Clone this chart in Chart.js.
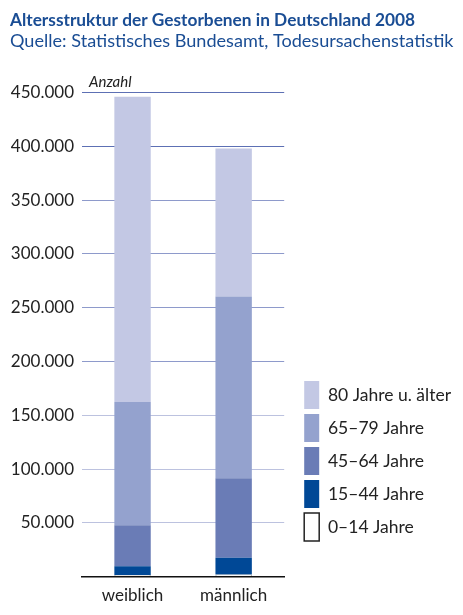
<!DOCTYPE html>
<html>
<head>
<meta charset="utf-8">
<script src="https://cdn.jsdelivr.net/npm/chart.js@4"></script>
<style>
  html, body { margin: 0; padding: 0; background: #fff; }
</style>
</head>
<body>
<canvas id="c" width="463" height="615"></canvas>
<script>
// Data
const categories = ["weiblich", "männlich"];
const ageGroups = ["0–14 Jahre", "15–44 Jahre", "45–64 Jahre", "65–79 Jahre", "80 Jahre u. älter"];
const age0to14 = [1500, 2000];
const age15to44 = [8200, 15500];
const age45to64 = [38100, 74000];
const age65to79 = [114500, 169000];
const age80plus = [284000, 137500];
const yTicks = [0, 50000, 100000, 150000, 200000, 250000, 300000, 350000, 400000, 450000];

const colors = ["#ffffff", "#004896", "#6a7cb6", "#94a2ce", "#c3c8e4"];
const series = [age0to14, age15to44, age45to64, age65to79, age80plus];

Chart.defaults.font.family = "Lato";
Chart.defaults.color = "#222";

// legend sizing: measure the widest label so the plot ends at x=284
const legendFont = 17.5;
const mctx = document.createElement("canvas").getContext("2d");
mctx.font = legendFont + "px Lato";
const textW = Math.max(...ageGroups.map(t => mctx.measureText(t).width));
const legendW = Math.ceil(5 + 15 + legendFont / 2 + textW + 10);
const padRight = 463 - 284 - 15 - legendW;

// "Anzahl" label above the y axis
const axisLabel = {
    id: "axisLabel",
    afterDraw(chart) {
        const ctx = chart.ctx;
        ctx.save();
        ctx.font = "italic 15px Lato";
        ctx.fillStyle = "#222";
        ctx.textBaseline = "alphabetic";
        ctx.fillText("Anzahl", chart.chartArea.left + 7, chart.chartArea.top - 6);
        ctx.restore();
    }
};

function gridColor(v) {
    if (v === 0) return "rgba(0,0,0,0)";
    if (v >= 400000) return "#5d70b4";
    if (v >= 200000) return "#8e9acb";
    return "#bcc2df";
}

new Chart(document.querySelector("#c").getContext("2d"), {
    type: "bar",
    data: {
        labels: categories,
        datasets: series.map((d, i) => ({
            label: ageGroups[i],
            data: d,
            backgroundColor: colors[i],
            borderColor: i === 0 ? "#9a9a9a" : colors[i],
            borderWidth: i === 0 ? 1 : 0,
            barPercentage: 0.36,
            categoryPercentage: 1
        }))
    },
    options: {
        responsive: false,
        animation: false,
        layout: { padding: { left: 10, right: padRight, top: 0, bottom: 0 } },
        scales: {
            x: {
                stacked: true,
                grid: { display: false, drawTicks: false },
                border: { display: true, color: "#111", width: 1.5, z: 1 },
                ticks: { font: { size: 17 }, padding: 9, color: "#222" }
            },
            y: {
                stacked: true,
                min: 0,
                max: 450000,
                afterBuildTicks: s => { s.ticks = yTicks.map(v => ({ value: v })); },
                afterFit: s => { s.width = 72; },
                border: { display: false },
                grid: {
                    drawTicks: false,
                    color: c => gridColor(c.tick.value),
                    lineWidth: 1
                },
                ticks: {
                    font: { size: 17 },
                    padding: 8,
                    color: "#222",
                    callback: v => v === 0 ? "" : v.toLocaleString("de-DE")
                }
            },
            gap: {
                position: "right",
                display: true,
                grid: { display: false, drawTicks: false },
                border: { display: false },
                ticks: { display: false },
                afterFit: s => { s.width = 15; }
            }
        },
        plugins: {
            title: {
                display: true,
                text: "Altersstruktur der Gestorbenen in Deutschland 2008",
                align: "start",
                color: "#1a4d94",
                font: { size: 17.3, weight: "bold", lineHeight: 1.2 },
                padding: { top: 10, bottom: 0 }
            },
            subtitle: {
                display: true,
                text: "Quelle: Statistisches Bundesamt, Todesursachenstatistik",
                align: "start",
                color: "#1a4d94",
                font: { size: 18.1, lineHeight: 1.1 },
                padding: { top: 0, bottom: 42 }
            },
            legend: {
                position: "right",
                align: "start",
                reverse: true,
                maxWidth: legendW,
                title: { display: true, text: "", font: { size: 10, lineHeight: 1 }, padding: { top: 366, bottom: 0 } },
                labels: {
                    boxWidth: 15,
                    boxHeight: 28,
                    padding: 5,
                    color: "#222",
                    font: { size: legendFont },
                    generateLabels: chart => {
                        const items = Chart.defaults.plugins.legend.labels.generateLabels(chart);
                        items.forEach(it => {
                            if (it.datasetIndex === 0) {
                                it.strokeStyle = "#222";
                                it.lineWidth = 1.5;
                            } else {
                                it.lineWidth = 0;
                            }
                        });
                        return items;
                    }
                }
            },
            tooltip: { enabled: false }
        }
    },
    plugins: [axisLabel]
});
</script>
</body>
</html>
